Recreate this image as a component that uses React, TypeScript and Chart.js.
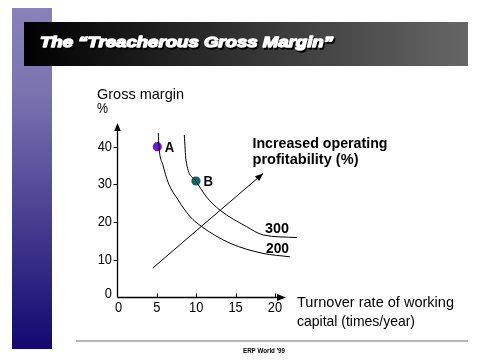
import React, { useEffect, useRef } from "react";
import { Chart, registerables } from "chart.js";
Chart.register(...registerables);

const xTicks = [0, 5, 10, 15, 20];
const yTicks = [0, 10, 20, 30, 40];
const curve200X = [5.18, 5.27, 5.78, 6.42, 7.69, 9.21, 10.7, 14.3, 18.5, 21.9];
const curve200Y = [43.6, 40.0, 35.1, 30.6, 25.9, 21.5, 18.8, 14.4, 11.7, 10.8];
const curve300X = [8.49, 8.7, 9.85, 11.3, 13.0, 16.4, 18.5, 22.8];
const curve300Y = [43.1, 36.5, 31.2, 26.7, 23.2, 18.8, 16.6, 15.9];
const arrowX = [4.47, 18.5];
const arrowY = [7.8, 32.9];
const pointLabels = ["A", "B"];
const pointX = [5.06, 9.97];
const pointY = [40, 30.9];
const pointColors = ["#6a1ad8", "#0b6866"];
const curveLabels = ["300", "200"];
const titleText = "The \u201CTreacherous Gross Margin\u201D";
const yTitle = ["Gross margin", "%"];
const xTitle = ["Turnover rate of working", "capital (times/year)"];
const arrowLabel = ["Increased operating", "profitability (%)"];
const footerText = "ERP World '99";

const FONT = "'Liberation Sans', Arial, sans-serif";

function txt(
  ctx: CanvasRenderingContext2D,
  s: string,
  x: number,
  y: number,
  font: string,
  color: string,
  width?: number,
  align: CanvasTextAlign = "left",
  baseline: CanvasTextBaseline = "alphabetic",
  sxIn?: number
) {
  ctx.save();
  ctx.font = font;
  ctx.fillStyle = color;
  ctx.textBaseline = baseline;
  ctx.textAlign = align;
  const m = ctx.measureText(s).width;
  const sx = width ? width / m : sxIn || 1;
  ctx.translate(x, y);
  ctx.scale(sx, 1);
  ctx.fillText(s, 0, 0);
  ctx.restore();
}

function tri(ctx: CanvasRenderingContext2D, tipX: number, tipY: number, fromX: number, fromY: number, len: number, half: number) {
  const dx = tipX - fromX;
  const dy = tipY - fromY;
  const d = Math.hypot(dx, dy);
  const ux = dx / d;
  const uy = dy / d;
  const bx = tipX - ux * len;
  const by = tipY - uy * len;
  ctx.beginPath();
  ctx.moveTo(tipX, tipY);
  ctx.lineTo(bx - uy * half, by + ux * half);
  ctx.lineTo(bx + uy * half, by - ux * half);
  ctx.closePath();
  ctx.fill();
}

const decorPlugin = {
  id: "decor",
  beforeDraw(chart: any) {
    const ctx: CanvasRenderingContext2D = chart.ctx;
    ctx.save();
    ctx.fillStyle = "#ffffff";
    ctx.fillRect(0, 0, chart.width, chart.height);
    // left bar
    const lg = ctx.createLinearGradient(0, 8, 0, 349);
    lg.addColorStop(0, "#8882bb");
    lg.addColorStop(0.25, "#7a73b0");
    lg.addColorStop(1, "#120870");
    ctx.fillStyle = lg;
    ctx.fillRect(12, 8, 40, 341);
    // title bar
    const tg = ctx.createLinearGradient(24, 0, 468, 0);
    tg.addColorStop(0, "#000000");
    tg.addColorStop(1, "#666666");
    ctx.fillStyle = tg;
    ctx.fillRect(24, 22, 444, 44);
    // title text with shadow
    const tf = `italic bold 14px ${FONT}`;
    ctx.save();
    ctx.font = tf;
    const m = ctx.measureText(titleText).width;
    const sx = 293 / m;
    for (const [ox, oy, col] of [[1.5, 1.5, "#000000"], [0, 0, "#ffffff"]] as any) {
      ctx.save();
      ctx.translate(40 + ox, 47 + oy);
      ctx.scale(sx, 1);
      ctx.fillStyle = col;
      ctx.strokeStyle = col;
      ctx.lineWidth = 1.3;
      ctx.lineJoin = "round";
      ctx.strokeText(titleText, 0, 0);
      ctx.fillText(titleText, 0, 0);
      ctx.restore();
    }
    ctx.restore();
    // footer
    ctx.strokeStyle = "#a0a0a0";
    ctx.lineWidth = 1.5;
    ctx.beginPath();
    ctx.moveTo(76, 341);
    ctx.lineTo(468, 341);
    ctx.stroke();
    txt(ctx, footerText, 243, 353, `bold 8px ${FONT}`, "#000", 42);
    ctx.restore();
  },
  afterDatasetsDraw(chart: any) {
    const ctx: CanvasRenderingContext2D = chart.ctx;
    const xs = chart.scales.x;
    const ys = chart.scales.y;
    const x0 = xs.getPixelForValue(0);
    const y0 = ys.getPixelForValue(0);
    ctx.save();
    ctx.strokeStyle = "#000";
    ctx.fillStyle = "#000";
    ctx.lineWidth = 1.3;
    // axes
    ctx.beginPath();
    ctx.moveTo(x0, y0);
    ctx.lineTo(x0, 130);
    ctx.moveTo(x0, y0);
    ctx.lineTo(278, y0);
    ctx.stroke();
    tri(ctx, x0, 123, x0, 200, 8, 3.2);
    tri(ctx, 286, y0, 200, y0, 9, 3.5);
    ctx.lineWidth = 1;
    // ticks
    ctx.beginPath();
    for (const v of yTicks) {
      if (v === 0) continue;
      const p = Math.round(ys.getPixelForValue(v)) + 0.5;
      ctx.moveTo(x0 - 4, p);
      ctx.lineTo(x0, p);
    }
    for (const v of xTicks) {
      if (v === 0) continue;
      const p = Math.round(xs.getPixelForValue(v)) + 0.5;
      ctx.moveTo(p, y0);
      ctx.lineTo(p, y0 - 4);
    }
    ctx.stroke();
    // tick labels
    for (const v of yTicks) {
      const p = v === 0 ? y0 - 3 : ys.getPixelForValue(v);
      txt(ctx, String(v), 112, p, `14px ${FONT}`, "#000", undefined, "right", "middle", 0.92);
    }
    for (const v of xTicks) {
      const p = xs.getPixelForValue(v) + (v === 0 ? 1 : 0);
      txt(ctx, String(v), p, 308.5, `14px ${FONT}`, "#000", undefined, "center", "middle", 0.92);
    }
    // axis titles
    txt(ctx, yTitle[0], 97, 98.5, `15px ${FONT}`, "#000", 87);
    txt(ctx, yTitle[1], 97, 113, `15px ${FONT}`, "#000", 11);
    txt(ctx, xTitle[0], 297, 306.5, `15px ${FONT}`, "#000", 157);
    txt(ctx, xTitle[1], 297, 326, `15px ${FONT}`, "#000", 118);
    // point labels
    for (let i = 0; i < pointLabels.length; i++) {
      const px = xs.getPixelForValue(pointX[i]);
      const py = ys.getPixelForValue(pointY[i]);
      txt(ctx, pointLabels[i], px + 7.5, py + 5, `bold 14px ${FONT}`, "#000", 9.5);
    }
    // arrow label
    txt(ctx, arrowLabel[0], 252.5, 148, `bold 15px ${FONT}`, "#000", 135);
    txt(ctx, arrowLabel[1], 252.5, 164, `bold 15px ${FONT}`, "#000", 106);
    // curve labels
    txt(ctx, curveLabels[0], 265, 233, `bold 15px ${FONT}`, "#000", 24);
    txt(ctx, curveLabels[1], 266, 253, `bold 15px ${FONT}`, "#000", 23);
    // diagonal arrowhead
    const ax0 = xs.getPixelForValue(arrowX[0]);
    const ay0 = ys.getPixelForValue(arrowY[0]);
    const ax1 = xs.getPixelForValue(arrowX[1]);
    const ay1 = ys.getPixelForValue(arrowY[1]);
    tri(ctx, ax1, ay1, ax0, ay0, 8, 3.2);
    ctx.restore();
  },
};

export default function App() {
  const ref = useRef<HTMLCanvasElement>(null);
  useEffect(() => {
    if (!ref.current) return;
    const toPts = (xa: number[], ya: number[]) => xa.map((x, i) => ({ x, y: ya[i] }));
    const xUnit = 7.87;
    const yUnit = 3.77;
    const xMax = 25;
    const yMax = 46;
    const left = 117.5;
    const bottom = 297.5;
    const chart = new Chart(ref.current, {
      type: "scatter",
      data: {
        datasets: [
          {
            data: toPts(curve200X, curve200Y),
            showLine: true,
            borderColor: "#000",
            borderWidth: 1,
            pointRadius: 0,
            cubicInterpolationMode: "monotone",
            clip: false,
          } as any,
          {
            data: toPts(curve300X, curve300Y),
            showLine: true,
            borderColor: "#000",
            borderWidth: 1,
            pointRadius: 0,
            cubicInterpolationMode: "monotone",
            clip: false,
          } as any,
          {
            data: toPts(arrowX, arrowY),
            showLine: true,
            borderColor: "#000",
            borderWidth: 1,
            pointRadius: 0,
            clip: false,
          } as any,
          {
            data: toPts(pointX, pointY),
            showLine: false,
            pointRadius: 4.6,
            pointBackgroundColor: pointColors,
            pointBorderWidth: 0,
            borderWidth: 0,
            clip: false,
          } as any,
        ],
      },
      options: {
        animation: false,
        responsive: false,
        events: [],
        layout: {
          padding: {
            left: left,
            right: 480 - (left + xMax * xUnit),
            top: bottom - yMax * yUnit,
            bottom: 360 - bottom,
          },
        },
        scales: {
          x: { type: "linear", min: 0, max: xMax, display: false },
          y: { type: "linear", min: 0, max: yMax, display: false },
        },
        plugins: { legend: { display: false }, tooltip: { enabled: false } },
      },
      plugins: [decorPlugin],
    });
    return () => chart.destroy();
  }, []);
  return (
    <div style={{ position: "fixed", left: 0, top: 0, width: 480, height: 360, background: "#fff" }}>
      <canvas ref={ref} width={480} height={360} style={{ display: "block" }} />
    </div>
  );
}
